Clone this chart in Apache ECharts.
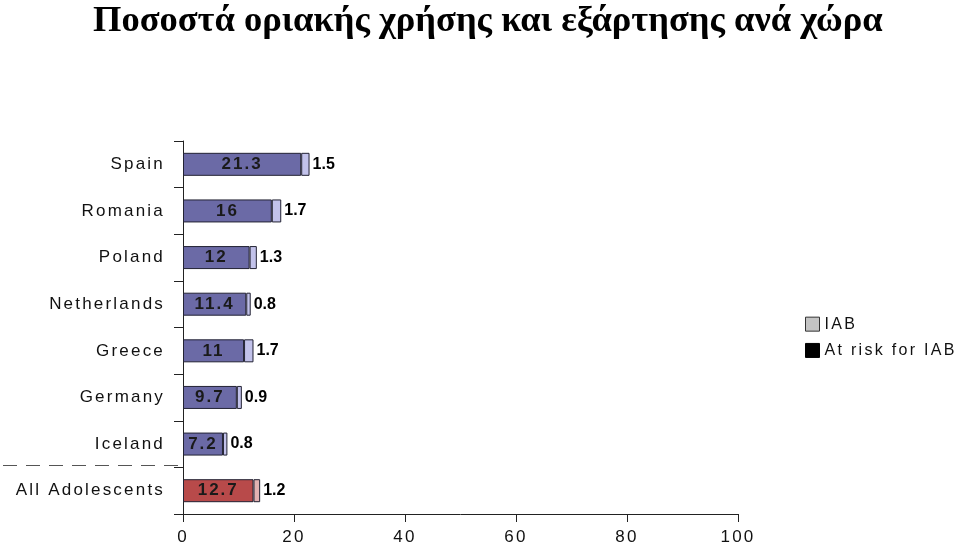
<!DOCTYPE html>
<html><head><meta charset="utf-8">
<script src="https://cdn.jsdelivr.net/npm/echarts@6/dist/echarts.min.js"></script>
<style>html,body{margin:0;padding:0;background:#fff}#c{width:960px;height:544px}</style>
</head><body><div id="c"></div>
<script>
// Wider letter spacing for sans labels (as in the reference); measure & draw consistently
(function(){
  var P = CanvasRenderingContext2D.prototype;
  function setLS(ctx){
    try {
      var f = ctx.font || '';
      if (f.indexOf('Liberation Sans') >= 0) {
        if (/bold|700/.test(f)) ctx.letterSpacing = /16px/.test(f) ? '0px' : '2px';
        else ctx.letterSpacing = /16px/.test(f) ? '2.3px' : '2.2px';
      } else ctx.letterSpacing = '0px';
    } catch(e){}
  }
  ['fillText','strokeText','measureText'].forEach(function(k){
    var o = P[k];
    P[k] = function(){ setLS(this); return o.apply(this, arguments); };
  });
})();

const title = 'Ποσοστά οριακής χρήσης και εξάρτησης ανά χώρα';
const categories = ['Spain','Romania','Poland','Netherlands','Greece','Germany','Iceland','All Adolescents'];
const atRisk = [21.3, 16, 12, 11.4, 11, 9.7, 7.2, 12.7];
const iab = [1.5, 1.7, 1.3, 0.8, 1.7, 0.9, 0.8, 1.2];
const xTicks = [0, 20, 40, 60, 80, 100];
const totalCategory = 'All Adolescents';

const font = 'Liberation Sans, Arial, sans-serif';
const chart = echarts.init(document.getElementById('c'), null, {renderer: 'canvas'});

const mainData = atRisk.map((v, i) => ({
  value: v,
  itemStyle: categories[i] === totalCategory ? {color: '#b84a4a'} : undefined
}));
const smallData = iab.map((v, i) => ({
  value: v,
  itemStyle: categories[i] === totalCategory ? {color: '#e2b2b2'} : undefined
}));

chart.setOption({
  animation: false,
  title: {
    text: title, left: 93, top: 3, padding: 0,
    textStyle: {fontFamily: 'Liberation Serif, Times New Roman, serif', fontWeight: 'bold', fontSize: 36.5, color: '#000'}
  },
  legend: {
    orient: 'vertical', left: 805, top: 315, itemWidth: 14, itemHeight: 14, itemGap: 8, padding: 0,
    icon: 'rect',
    textStyle: {fontFamily: font, fontSize: 16, color: '#111'},
    data: [
      {name: 'IAB', itemStyle: {color: '#c4c4c4', borderColor: '#333', borderWidth: 1}},
      {name: 'At risk for IAB', itemStyle: {color: '#000', borderColor: '#000', borderWidth: 1}}
    ]
  },
  grid: {left: 183, right: 222, top: 141, bottom: 30, containLabel: false, outerBoundsMode: 'none'},
  xAxis: {
    type: 'value', min: xTicks[0], max: xTicks[xTicks.length - 1], interval: 20,
    axisLine: {show: true, lineStyle: {color: '#222', width: 1}},
    axisTick: {show: true, length: 8, lineStyle: {color: '#222'}},
    splitLine: {show: false},
    axisLabel: {fontFamily: font, fontSize: 17, color: '#111', margin: 14}
  },
  yAxis: {
    type: 'category', data: categories, inverse: true,
    axisLine: {show: true, lineStyle: {color: '#222', width: 1}},
    axisTick: {show: true, length: 9, lineStyle: {color: '#222'}},
    axisLabel: {fontFamily: font, fontSize: 17, color: '#111', margin: 18}
  },
  series: [
    {
      name: 'At risk for IAB', type: 'bar', stack: 's', barWidth: 23,
      itemStyle: {color: '#6b6aa6', borderColor: '#222233', borderWidth: 1},
      label: {show: true, position: 'inside', fontFamily: font, fontWeight: 'bold', fontSize: 17, color: '#1a1a1a'},
      data: mainData
    },
    {
      name: 'IAB', type: 'bar', stack: 's', barWidth: 23,
      itemStyle: {color: '#c2c2ea', borderColor: '#222233', borderWidth: 1},
      label: {show: true, position: 'right', distance: 3, fontFamily: font, fontWeight: 'bold', fontSize: 16, color: '#000'},
      data: smallData
    }
  ]
});

// dashed separator between the countries and the overall group
const idx = categories.indexOf(totalCategory);
const yA = chart.convertToPixel({yAxisIndex: 0}, categories[idx - 1]);
const yB = chart.convertToPixel({yAxisIndex: 0}, categories[idx]);
const ySep = Math.round((yA + yB) / 2) - 1.5;
const x0 = chart.convertToPixel({xAxisIndex: 0}, 0);
chart.setOption({
  graphic: [{
    type: 'line', silent: true,
    shape: {x1: 3, y1: ySep, x2: x0, y2: ySep},
    style: {stroke: '#555', lineWidth: 1.2, lineDash: [14, 9]}
  }]
});
</script></body></html>
